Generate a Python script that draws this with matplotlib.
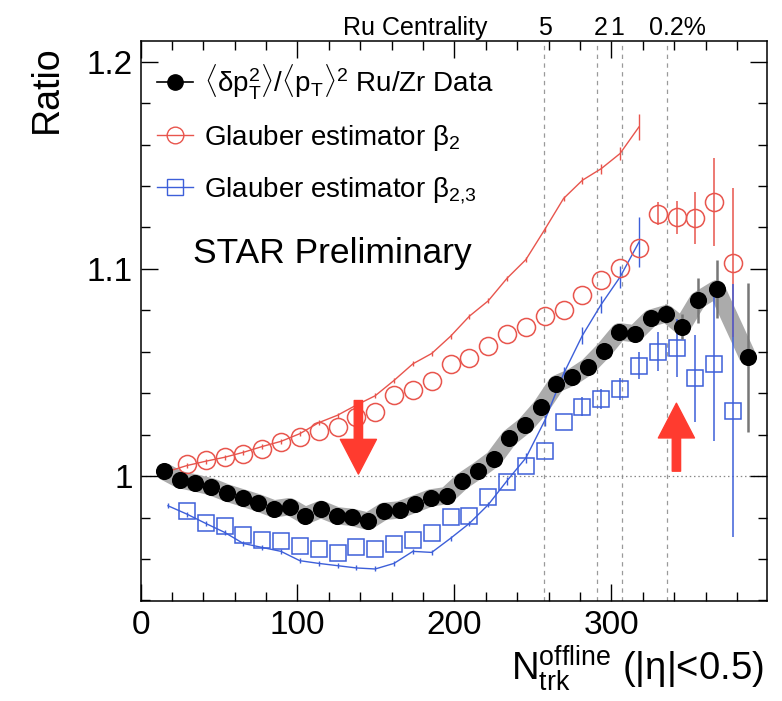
import matplotlib
matplotlib.use("Agg")
import matplotlib.pyplot as plt
from matplotlib.lines import Line2D
from matplotlib.patches import FancyArrowPatch
from matplotlib.ticker import MultipleLocator, FuncFormatter
import matplotlib.transforms as mtransforms

plt.rcParams['font.family'] = ['Liberation Sans', 'DejaVu Sans']
plt.rcParams['mathtext.fontset'] = 'custom'
plt.rcParams['mathtext.rm'] = 'Liberation Sans'
plt.rcParams['mathtext.it'] = 'Liberation Sans:italic'
plt.rcParams['mathtext.bf'] = 'Liberation Sans:bold'

# ---- measured ratio <dpT^2>/<pT>^2, Ru/Zr ----
data_nch = [15, 25, 35, 45, 55, 65, 75, 85, 95, 105, 115, 125, 135, 145,
            155, 165, 175, 185, 195, 205, 215, 225, 235, 245, 255, 265,
            275, 285, 295, 305, 315, 325, 335, 345, 355, 367, 387]
data_ratio = [1.0023, 0.9983, 0.9967, 0.9949, 0.9919, 0.9895, 0.9871, 0.9842,
              0.9853, 0.9809, 0.9840, 0.9809, 0.9801, 0.9782, 0.9830, 0.9837,
              0.9866, 0.9895, 0.9906, 0.9976, 1.0027, 1.0083, 1.0185, 1.0245,
              1.0332, 1.0445, 1.0478, 1.0528, 1.0606, 1.0697, 1.0687, 1.0762,
              1.0784, 1.0722, 1.0848, 1.0904, 1.0574]
data_err = [0.0] * 32 + [0.0045, 0.006, 0.011, 0.014, 0.036]

# ---- Glauber estimator, fine curve ----
glauber_curve_nch = [17.5, 29.5, 41.5, 53.5, 65.5, 77.5, 89.5, 101.5, 113.5,
                     125.5, 137.5, 149.5, 161.5, 173.5, 185.5, 197.5, 209.5,
                     221.5, 233.5, 245.5, 257.5, 269.5, 281.5, 293.5, 305.5,
                     317.5]
beta2_curve = [1.0023, 1.0051, 1.0072, 1.0091, 1.0115, 1.0143, 1.0168, 1.0205,
               1.0258, 1.0294, 1.0343, 1.0388, 1.0462, 1.0542, 1.0592, 1.0675,
               1.0772, 1.0846, 1.0955, 1.1045, 1.1190, 1.1340, 1.1428, 1.1484,
               1.1557, 1.1685]
beta2_curve_err = [0.0012] * 22 + [0.0018, 0.0024, 0.0032, 0.0064]
beta23_curve = [0.9857, 0.9817, 0.9772, 0.9729, 0.9675, 0.9656, 0.9637,
                0.9592, 0.9579, 0.9568, 0.9557, 0.9552, 0.9579, 0.9637,
                0.9632, 0.9700, 0.9772, 0.9862, 0.9978, 1.0088, 1.0268,
                1.0494, 1.0679, 1.0829, 1.0961, 1.1129]
beta23_curve_err = [0.0012] * 18 + [0.002, 0.0024, 0.0028, 0.0032, 0.004,
                                    0.004, 0.0052, 0.012]

# ---- Glauber estimator, points ----
glauber_pts_nch = [29.5, 41.5, 53.5, 65.5, 77.5, 89.5, 101.5, 113.5, 125.5,
                   137.5, 149.5, 161.5, 173.5, 185.5, 197.5, 209.5, 221.5,
                   233.5, 245.5, 257.5, 269.5, 281.5, 293.5, 305.5, 317.5,
                   329.5, 341.5, 353.5, 365.5, 377.5]
beta2_pts = [1.0059, 1.0078, 1.0094, 1.0107, 1.0131, 1.0163, 1.0190, 1.0218,
             1.0237, 1.0284, 1.0310, 1.0393, 1.0418, 1.0460, 1.0540, 1.0572,
             1.0630, 1.0684, 1.0719, 1.0775, 1.0800, 1.0872, 1.0948, 1.1006,
             1.1100, 1.1267, 1.1250, 1.1247, 1.1323, 1.1030]
beta2_pts_err = [0.0] * 25 + [0.0056, 0.008, 0.0125, 0.021, 0.036]
beta23_pts = [0.9833, 0.9772, 0.9761, 0.9717, 0.9692, 0.9688, 0.9661, 0.9648,
              0.9629, 0.9656, 0.9648, 0.9672, 0.9693, 0.9726, 0.9801, 0.9809,
              0.9901, 0.9973, 1.0051, 1.0120, 1.0260, 1.0336, 1.0373, 1.0421,
              1.0534, 1.0600, 1.0620, 1.0472, 1.0542, 1.0316]
beta23_pts_err = [0.0] * 21 + [0.0046, 0.0048, 0.0055, 0.0065,
                               0.0094, 0.014, 0.021, 0.037, 0.061]

# ---- Ru centrality boundaries ----
cent_nch = [257, 290.7, 306.6, 335.2]
cent_labels = ['5', '2', '1', '0.2%']
cent_label_x = [257.5, 293.2, 303.6, 342.1]

RED = '#e8554d'
BLUE = '#3d5fd9'
ARROW = '#ff3b2f'

fig = plt.figure(figsize=(7.82, 7.01), dpi=100)
ax = fig.add_axes([0.1797, 0.1431, 0.8015, 0.7984])
ax.set_xlim(0, 399.3)
ax.set_ylim(0.9399, 1.21)

for xc in cent_nch:
    ax.axvline(xc, color='#9a9a9a', lw=0.9, ls=(0, (3.5, 3.5)), zorder=1)
ax.axhline(1.0, color='#888888', lw=0.9, ls=(0, (1.2, 2.2)), zorder=1)

# systematic band
ax.plot(data_nch, data_ratio, color='#ababab', lw=12.5,
        solid_joinstyle='round', solid_capstyle='butt', zorder=2)

# Glauber curves
ax.errorbar(glauber_curve_nch, beta2_curve, yerr=beta2_curve_err, color=RED,
            lw=1.0, elinewidth=1.0, capsize=0, zorder=3)
ax.errorbar(glauber_curve_nch, beta23_curve, yerr=beta23_curve_err, color=BLUE,
            lw=1.0, elinewidth=1.0, capsize=0, zorder=3)

# Glauber points
ax.errorbar(glauber_pts_nch, beta2_pts, yerr=beta2_pts_err, fmt='o', ms=13,
            mfc='none', mec=RED, mew=1.1, ecolor=RED, elinewidth=1.1,
            capsize=0, zorder=4)
ax.errorbar(glauber_pts_nch, beta23_pts, yerr=beta23_pts_err, fmt='s', ms=12,
            mfc='none', mec=BLUE, mew=1.1, ecolor=BLUE, elinewidth=1.1,
            capsize=0, zorder=4)

# data points
ax.errorbar(data_nch, data_ratio, yerr=data_err, fmt='o', ms=11.3, color='black',
            ecolor='#777777', elinewidth=1.8, capsize=0, zorder=5)

# arrows
for (xa, y0, y1) in [(138.8, 1.0365, 1.0010), (341.4, 1.0024, 1.0352)]:
    arr = FancyArrowPatch((xa, y0), (xa, y1),
                          arrowstyle='simple,head_length=1.25,head_width=1.3,tail_width=0.3',
                          mutation_scale=20, color=ARROW, shrinkA=0, shrinkB=0,
                          zorder=6)
    ax.add_patch(arr)

# axes styling
ax.xaxis.set_major_locator(MultipleLocator(100))
ax.xaxis.set_minor_locator(MultipleLocator(20))
ax.yaxis.set_major_locator(MultipleLocator(0.1))
ax.yaxis.set_minor_locator(MultipleLocator(0.02))
ax.yaxis.set_major_formatter(FuncFormatter(lambda v, p: '%g' % round(v, 3)))
ax.tick_params(which='both', direction='in', top=True, right=True,
               labelsize=24, width=1.0)
ax.tick_params(which='major', length=12.5)
ax.tick_params(which='minor', length=6.3)
ax.tick_params(axis='x', pad=6.5)
ax.tick_params(axis='y', pad=5.4)
for sp in ax.spines.values():
    sp.set_linewidth(1.1)

ax.text(-0.149, 0.993, 'Ratio', transform=ax.transAxes, rotation=90,
        ha='center', va='top', fontsize=27)
ax.text(0.995, -0.142, r'$\mathrm{N}_{\mathrm{trk}}^{\mathrm{offline}}$ (|$\mathrm{\eta}$|<0.5)',
        transform=ax.transAxes, ha='right', va='baseline', fontsize=27.5)

# centrality labels above the frame
trans = mtransforms.blended_transform_factory(ax.transData, ax.transAxes)
ax.text(175.2, 1.023, 'Ru Centrality', transform=trans, ha='center',
        va='center', fontsize=18)
for lx, lab in zip(cent_label_x, cent_labels):
    ax.text(lx, 1.023, lab, transform=trans, ha='center', va='center',
            fontsize=18)

ax.text(0.084, 0.62, 'STAR Preliminary', transform=ax.transAxes,
        ha='left', va='center', fontsize=25.5)

handles = [
    Line2D([], [], color='black', marker='o', ms=11, lw=1.2),
    Line2D([], [], color=RED, marker='o', ms=12, mfc='none', mec=RED, lw=1.0),
    Line2D([], [], color=BLUE, marker='s', ms=11, mfc='none', mec=BLUE, lw=1.0),
]
labels = [
    r'$\langle\mathrm{\delta p}_{\mathrm{T}}^{2}\rangle/\langle\mathrm{p}_{\mathrm{T}}\rangle^{2}$ Ru/Zr Data',
    r'Glauber estimator $\mathrm{\beta}_{2}$',
    r'Glauber estimator $\mathrm{\beta}_{2{,}3}$',
]
ax.legend(handles, labels, loc='upper left', bbox_to_anchor=(0.026, 0.962),
          frameon=False, fontsize=20, handlelength=1.3, handletextpad=0.4,
          labelspacing=0.78, borderpad=0, borderaxespad=0)

fig.savefig('out.png', dpi=100)
